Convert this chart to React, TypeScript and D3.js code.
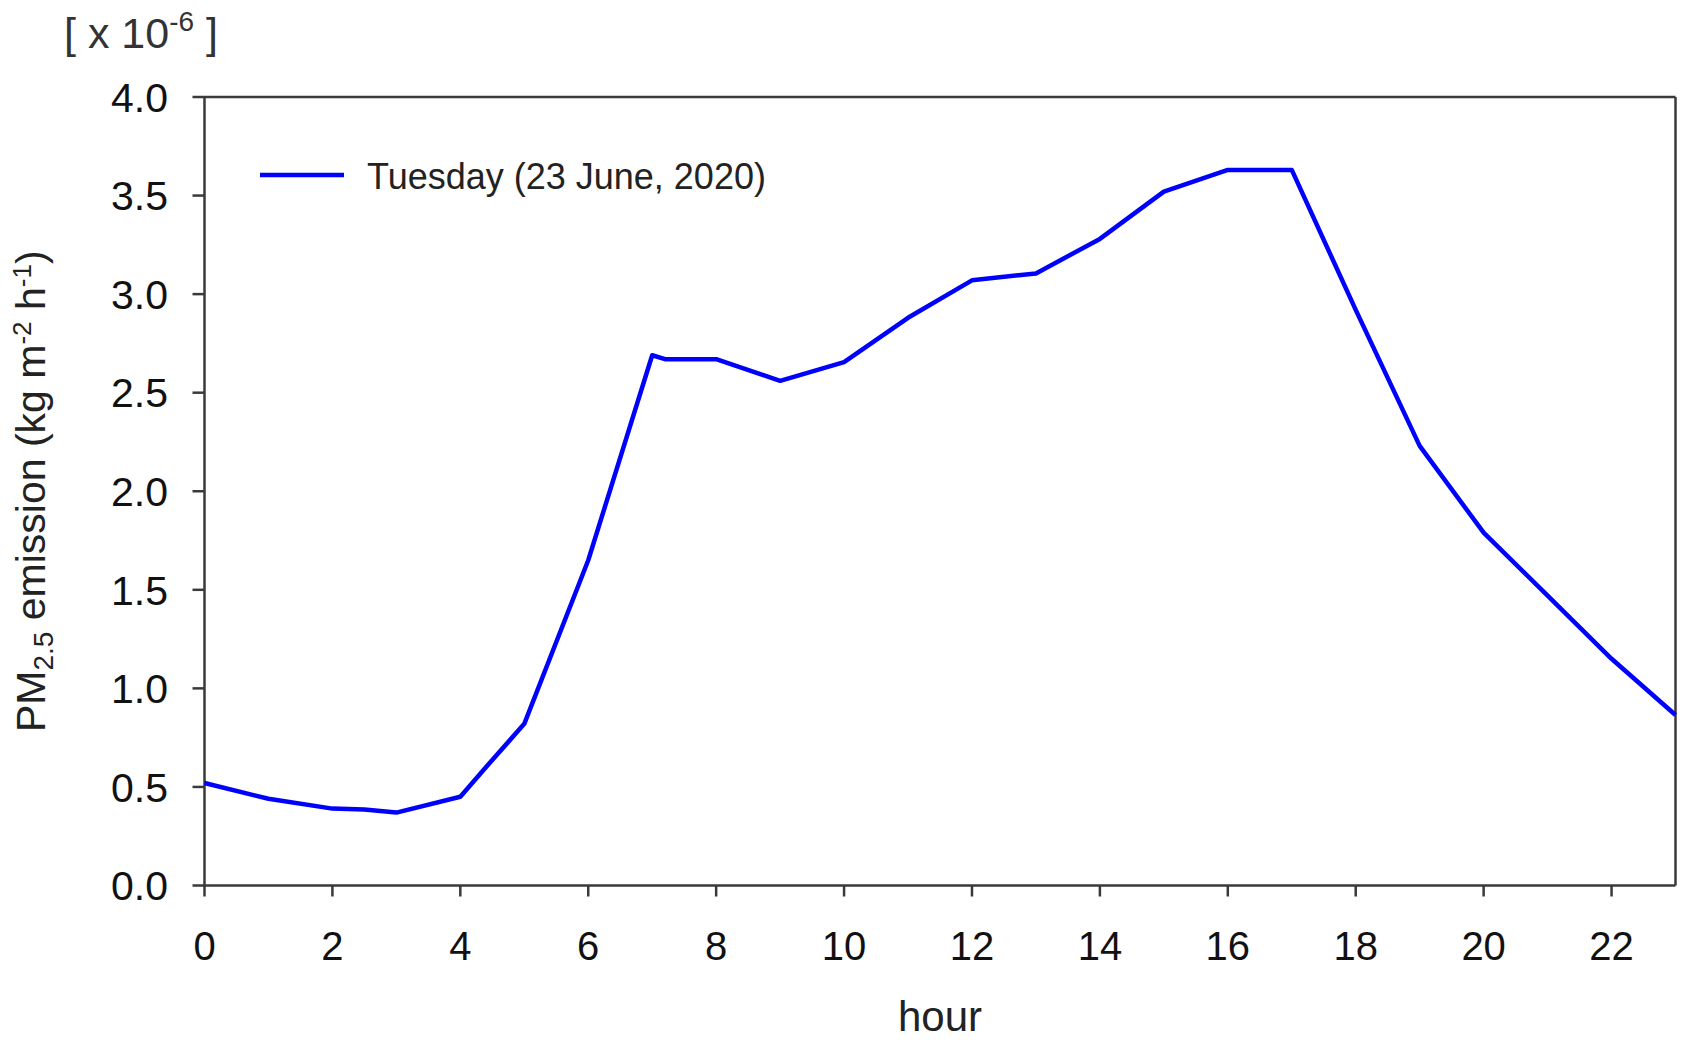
import React from 'react';
import * as d3 from 'd3';

const hours = [0, 1, 2, 2.5, 3, 4, 4.4, 5, 6, 7, 7.2, 8, 9, 10, 11, 12, 13, 14, 15, 16, 17, 18, 19, 20, 21, 22, 23];
const emission = [0.52, 0.44, 0.39, 0.385, 0.37, 0.45, 0.6, 0.82, 1.65, 2.69, 2.67, 2.67, 2.56, 2.655, 2.88, 3.07, 3.105, 3.28, 3.52, 3.63, 3.63, 2.92, 2.23, 1.79, 1.47, 1.15, 0.865];
const xTicks = [0, 2, 4, 6, 8, 10, 12, 14, 16, 18, 20, 22];
const yTicks = [0, 0.5, 1, 1.5, 2, 2.5, 3, 3.5, 4];
const yTickLabels = ['0.0', '0.5', '1.0', '1.5', '2.0', '2.5', '3.0', '3.5', '4.0'];
const seriesName = 'Tuesday (23 June, 2020)';
const xTitle = 'hour';

const W = 1687;
const H = 1047;
const FONT = 'Arial, "Liberation Sans", sans-serif';

export default function App() {
  const x = d3.scaleLinear().domain([0, 23]).range([204.5, 1675.5]);
  const y = d3.scaleLinear().domain([0, 4]).range([885.5, 97]);
  const pts = hours.map((h, i) => [h, emission[i]] as [number, number]);
  const line = d3.line<[number, number]>().x(d => x(d[0])).y(d => y(d[1]));
  const axisColor = '#3a3a3a';
  const x0 = x.range()[0];
  const x1 = x.range()[1];
  const y0 = y.range()[0];
  const y1 = y.range()[1];
  return (
    <svg width={W} height={H} style={{ position: 'absolute', left: 0, top: 0, display: 'block', background: '#fff' }} fontFamily={FONT}>
      <rect x={0} y={0} width={W} height={H} fill="#fff" />
      {/* frame */}
      <line x1={x0} y1={y1} x2={x1} y2={y1} stroke={axisColor} strokeWidth={2.5} />
      <line x1={x1} y1={y1} x2={x1} y2={y0} stroke={axisColor} strokeWidth={2.5} />
      <line x1={x0} y1={y0} x2={x1} y2={y0} stroke={axisColor} strokeWidth={2.5} />
      <line x1={x0} y1={y0 + 1} x2={x0} y2={y1 - 1} stroke={axisColor} strokeWidth={2.5} />
      {/* y ticks */}
      {yTicks.map((t, i) => (
        <g key={'y' + i}>
          <line x1={x0 - 12} x2={x0} y1={y(t)} y2={y(t)} stroke={axisColor} strokeWidth={2.5} />
          <text x={168} y={y(t)} dy="0.36em" textAnchor="end" fontSize={41} fill="#111">{yTickLabels[i]}</text>
        </g>
      ))}
      {/* x ticks */}
      {xTicks.map((t, i) => (
        <g key={'x' + i}>
          <line x1={x(t)} x2={x(t)} y1={y0} y2={y0 + 11} stroke={axisColor} strokeWidth={2.5} />
          <text x={x(t)} y={960} textAnchor="middle" fontSize={40} fill="#111">{t}</text>
        </g>
      ))}
      {/* series */}
      <path d={line(pts) || ''} fill="none" stroke="#0000ff" strokeWidth={4.5} strokeLinejoin="round" />
      {/* legend */}
      <line x1={260} x2={344} y1={175} y2={175} stroke="#0000ff" strokeWidth={4.5} />
      <text x={367} y={189} fontSize={36} fill="#222">{seriesName}</text>
      {/* x title */}
      <text x={(x0 + x1) / 2} y={1031} textAnchor="middle" fontSize={42} fill="#222">{xTitle}</text>
      {/* y title */}
      <text transform={`translate(45,${(y0 + y1) / 2}) rotate(-90)`} textAnchor="middle" fontSize={41} fill="#222">
        PM<tspan fontSize={28} dy={8}>2.5</tspan><tspan dy={-8}> emission (kg m</tspan><tspan fontSize={26} dy={-14}>-2</tspan><tspan dy={14}> h</tspan><tspan fontSize={26} dy={-14}>-1</tspan><tspan dy={14}>)</tspan>
      </text>
      {/* multiplier */}
      <text x={64} y={48} fontSize={43} fill="#333">
        [ x 10<tspan fontSize={28} dy={-17}>-6</tspan><tspan dy={17}>  ]</tspan>
      </text>
    </svg>
  );
}
